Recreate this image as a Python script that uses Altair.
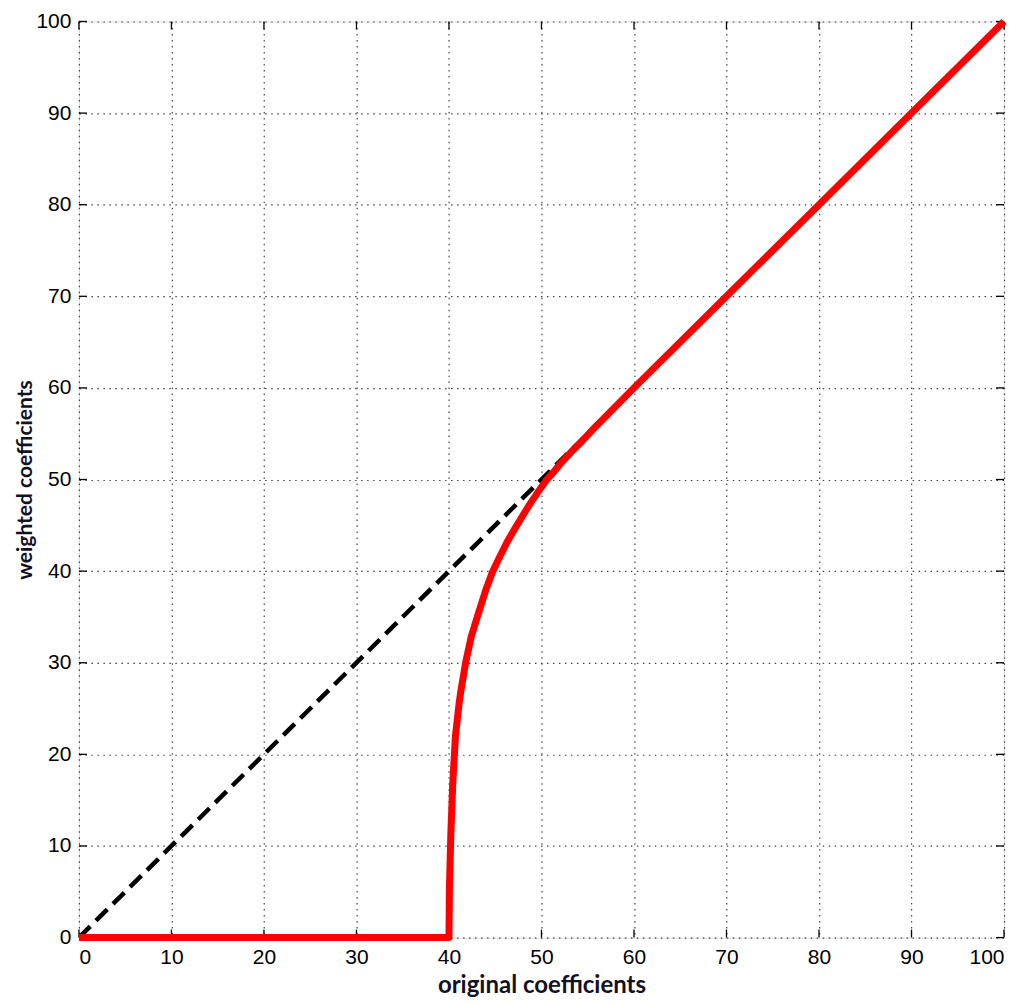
import altair as alt
import pandas as pd

# red weighted curve
red_x = [0, 10, 20, 30, 39.9, 40.0, 40.05, 40.2, 40.4, 40.7, 41.1, 41.3, 41.8, 42.4,
         43.0, 43.5, 44.0, 44.7, 45.5, 46.3, 47.1, 48.0, 48.8, 49.6, 50.5, 51.3,
         52.1, 53.2, 54.3, 55.5, 60, 70, 80, 90, 100]
red_y = [0, 0, 0, 0, 0, 0, 5.4, 11.2, 16.6, 22.0, 25.6, 27.0, 30.0, 32.8,
         34.8, 36.4, 38.0, 39.9, 41.6, 43.2, 44.6, 46.1, 47.4, 48.6, 49.9, 50.8,
         51.8, 53.0, 54.1, 55.4, 60, 70, 80, 90, 100]

# black dashed identity line
diag_x = [0, 100]
diag_y = [0, 100]

tick_vals = [0, 10, 20, 30, 40, 50, 60, 70, 80, 90, 100]

W = 926
H = 917

red_df = pd.DataFrame({"x": red_x, "y": red_y, "o": list(range(len(red_x)))})
diag_df = pd.DataFrame({"x": diag_x, "y": diag_y})
ticks_df = pd.DataFrame({"v": tick_vals})

xscale = alt.Scale(domain=[0, 100], nice=False, zero=False)
yscale = alt.Scale(domain=[0, 100], nice=False, zero=False)

grid_color = "#444444"

x_axis = alt.Axis(
    values=tick_vals, grid=True, gridColor=grid_color, gridDash=[1.5, 4.5],
    gridWidth=1.2, gridOpacity=1, ticks=False, domain=False,
    labelFont="Liberation Sans", labelFontSize=21, labelColor="black",
    labelPadding=9, title="original coefficients", titleFont="Lato",
    titleFontSize=24, titleFontWeight="bold", titleColor="#111122",
    titlePadding=6,
)
y_axis = alt.Axis(
    values=tick_vals, grid=True, gridColor=grid_color, gridDash=[1.5, 4.5],
    gridWidth=1.2, gridOpacity=1, ticks=False, domain=False,
    labelFont="Liberation Sans", labelFontSize=21, labelColor="black",
    labelPadding=8, title="weighted coefficients", titleFont="Lato",
    titleFontSize=21, titleFontWeight="bold", titleColor="#111122",
    titlePadding=0,
)

base_grid = alt.Chart(diag_df).mark_point(opacity=0).encode(
    x=alt.X("x:Q", scale=xscale, axis=x_axis),
    y=alt.Y("y:Q", scale=yscale, axis=y_axis),
)

diag = alt.Chart(diag_df).mark_line(
    color="black", strokeWidth=4.5, strokeDash=[16, 8], clip=True
).encode(
    x=alt.X("x:Q", scale=xscale),
    y=alt.Y("y:Q", scale=yscale),
)

red = alt.Chart(red_df).mark_line(
    color="#ff0000", strokeWidth=7, strokeJoin="round", strokeCap="butt"
).encode(
    x=alt.X("x:Q", scale=xscale),
    y=alt.Y("y:Q", scale=yscale),
    order="o:Q",
)

tick_len = 8
xt_bottom = alt.Chart(ticks_df).mark_rule(color="black", strokeWidth=1.3).encode(
    x=alt.X("v:Q", scale=xscale), y=alt.value(H), y2=alt.value(H - tick_len)
)
xt_top = alt.Chart(ticks_df).mark_rule(color="black", strokeWidth=1.3).encode(
    x=alt.X("v:Q", scale=xscale), y=alt.value(0), y2=alt.value(tick_len)
)
yt_left = alt.Chart(ticks_df).mark_rule(color="black", strokeWidth=1.3).encode(
    y=alt.Y("v:Q", scale=yscale), x=alt.value(0), x2=alt.value(tick_len)
)
yt_right = alt.Chart(ticks_df).mark_rule(color="black", strokeWidth=1.3).encode(
    y=alt.Y("v:Q", scale=yscale), x=alt.value(W), x2=alt.value(W - tick_len)
)

chart = alt.layer(
    base_grid, xt_bottom, xt_top, yt_left, yt_right, diag, red
).properties(
    width=W, height=H,
    autosize=alt.AutoSizeParams(type="none"),
    padding={"left": 71, "top": 13, "right": 12, "bottom": 59},
).configure_view(
    stroke="black", strokeWidth=1.3
).configure(background="white")

chart.save("out.html", embed_options={"renderer": "svg", "actions": False})
